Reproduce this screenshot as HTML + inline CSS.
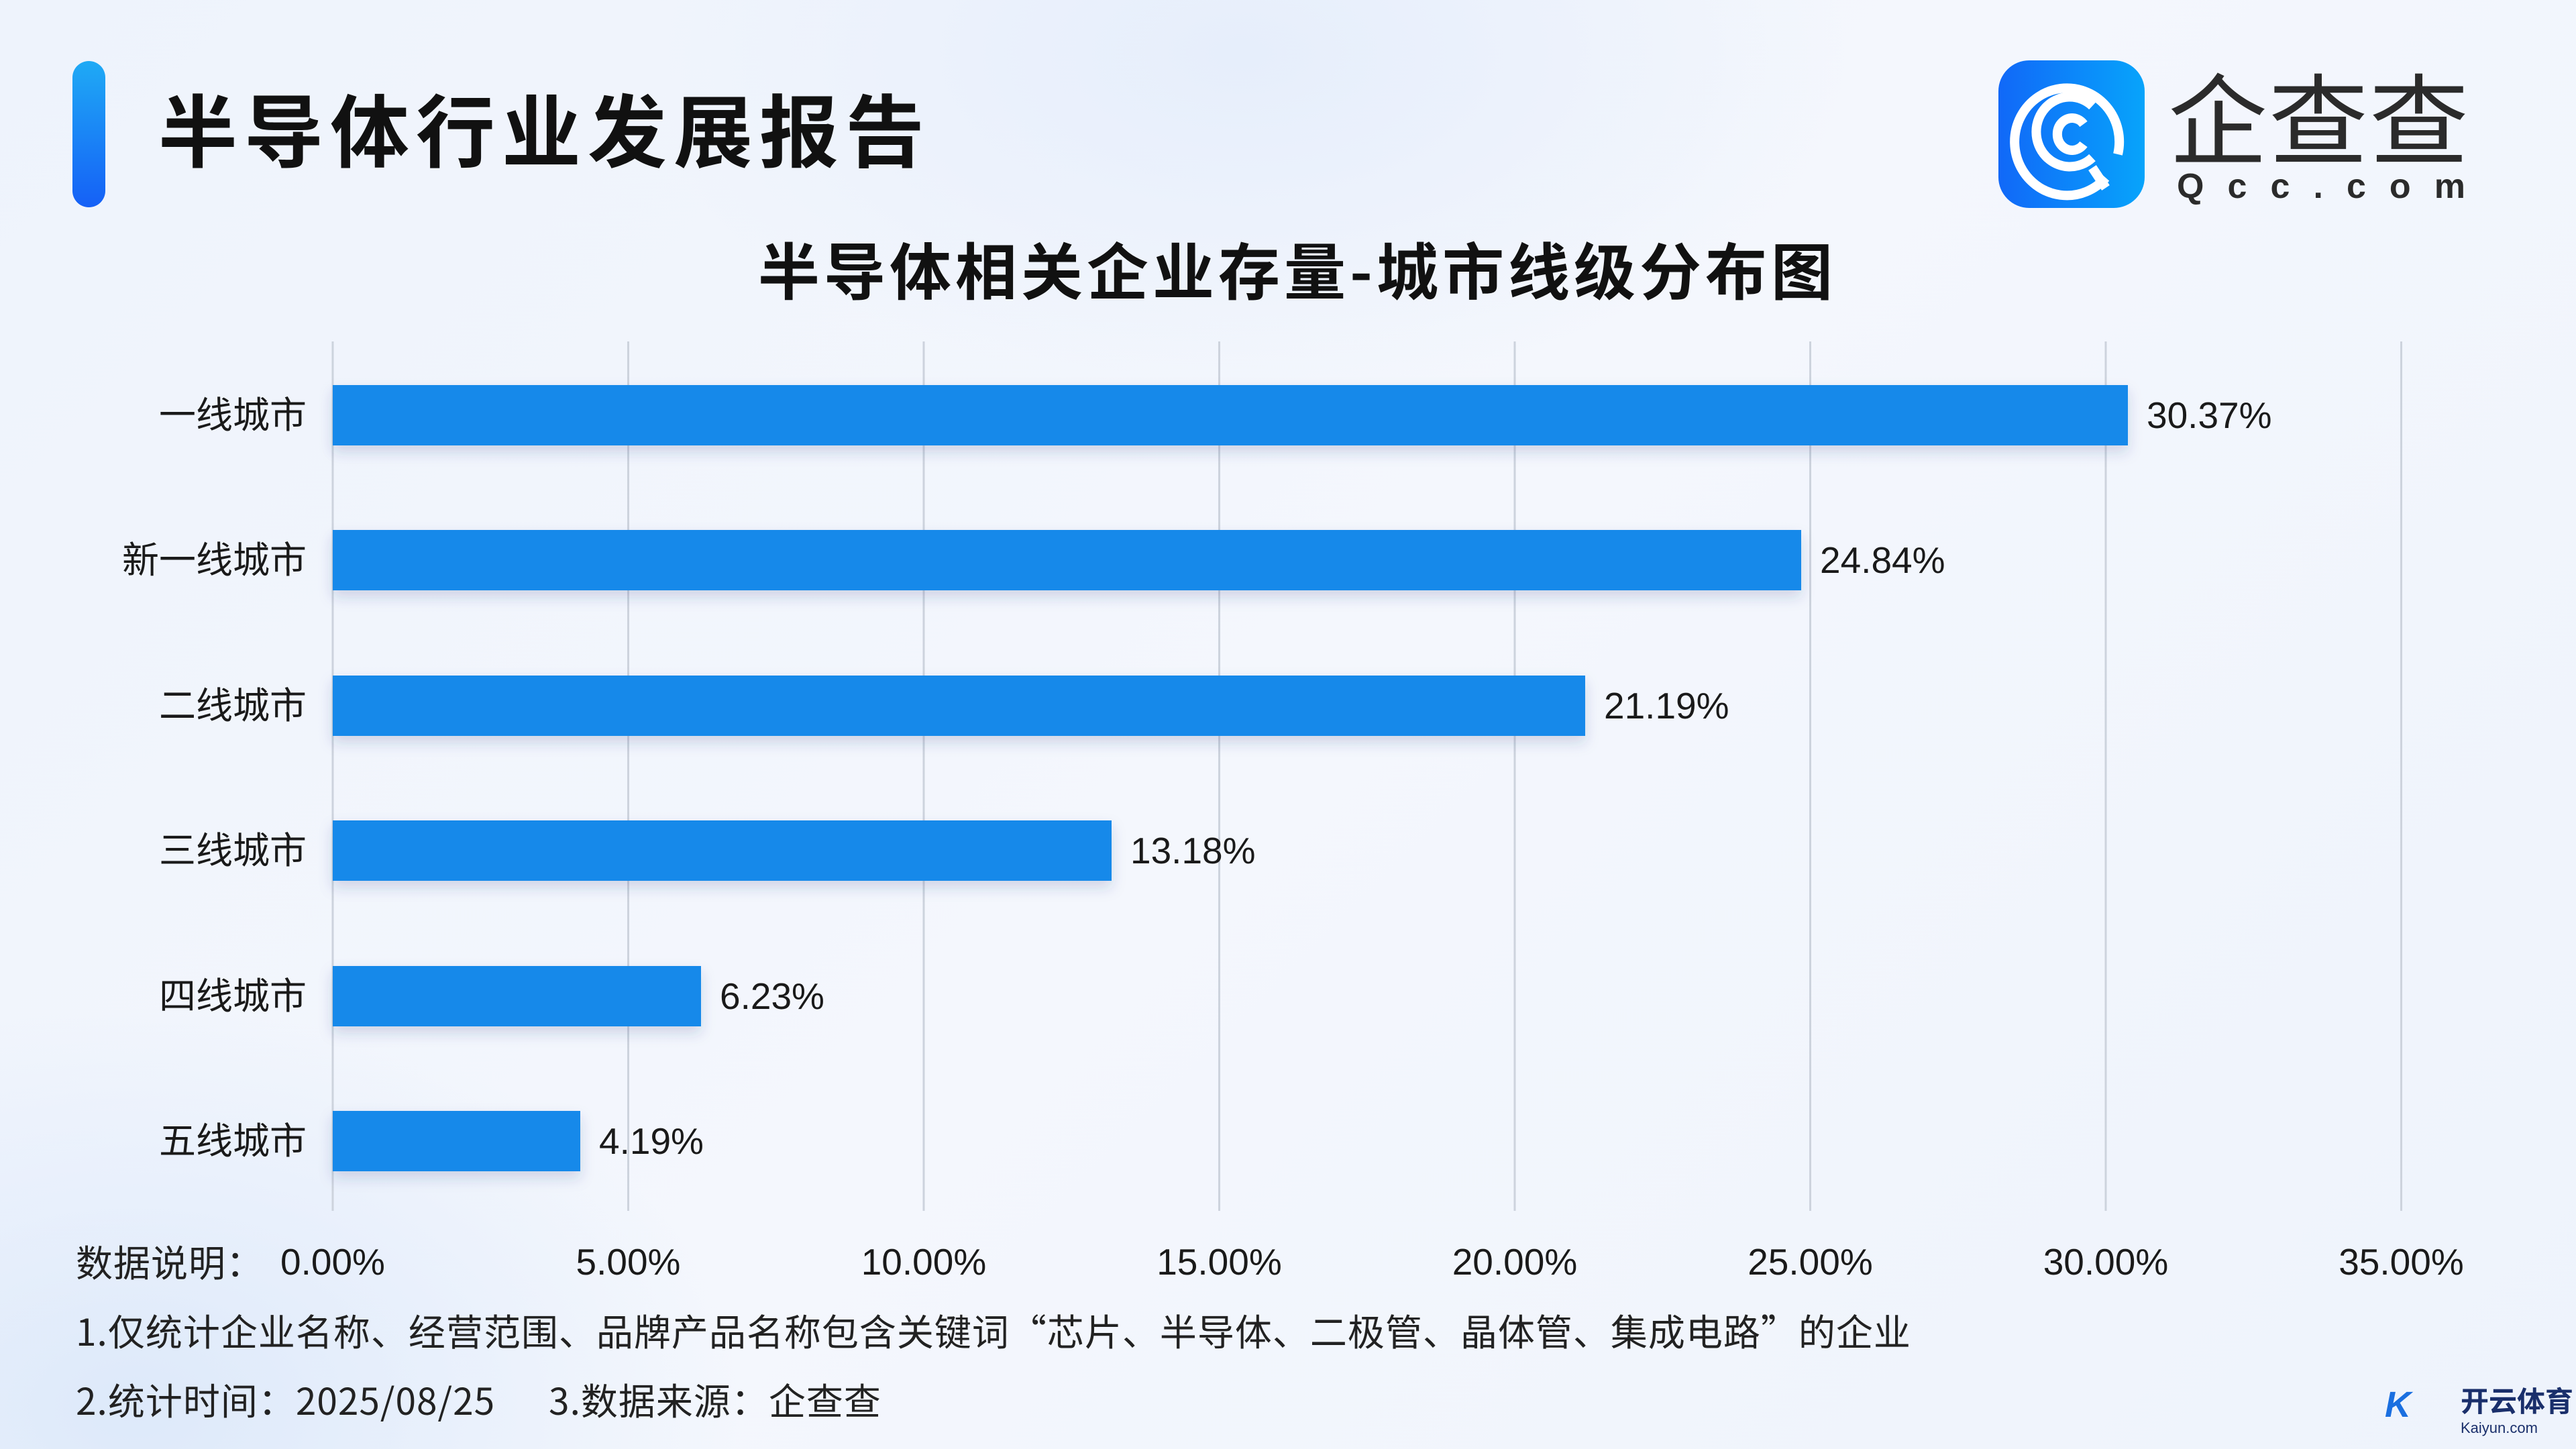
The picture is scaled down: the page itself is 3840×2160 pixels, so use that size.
<!DOCTYPE html>
<html><head><meta charset="utf-8"><style>
html,body{margin:0;padding:0}
body{width:3840px;height:2160px;overflow:hidden;position:relative;
background:radial-gradient(ellipse 900px 500px at 1850px 80px,#e6eefb 0%,rgba(240,245,253,0) 100%),radial-gradient(ellipse 900px 600px at 200px 2100px,#dde9fa 0%,rgba(240,245,253,0) 100%),linear-gradient(135deg,#eef3fc 0%,#f4f7fd 50%,#eef3fc 100%);
font-family:"Liberation Sans","Noto Sans CJK SC",sans-serif;color:#1a1a1a}
.acc{position:absolute;left:108px;top:91px;width:49px;height:218px;border-radius:25px;background:linear-gradient(180deg,#1faaf5,#1560f6)}
.t1{position:absolute;left:236px;top:118px;font-size:118px;line-height:142px;font-weight:bold;letter-spacing:10px;white-space:nowrap;font-family:"Noto Sans CJK SC",sans-serif;color:#111}
.icon{position:absolute;left:2979px;top:90px;width:218px;height:220px;border-radius:46px;background:linear-gradient(90deg,#1168f8,#07a4fb)}
.qcc{position:absolute;left:3232px;top:82px;font-size:148px;line-height:176px;letter-spacing:2px;color:#2b2b2b;font-family:"Noto Sans CJK SC",sans-serif;white-space:nowrap}
.dom{position:absolute;left:3245px;top:250px;width:430px;display:flex;justify-content:space-between;font-size:52px;line-height:56px;color:#2b2b2b;font-weight:bold}
.t2{position:absolute;left:1130px;top:342px;font-size:92px;line-height:116px;font-weight:bold;letter-spacing:6px;white-space:nowrap;font-family:"Noto Sans CJK SC",sans-serif;color:#111}
.n{position:absolute;left:113px;font-size:55px;line-height:64px;white-space:nowrap;color:#222;font-family:"Noto Sans CJK SC",sans-serif;letter-spacing:1px}
</style></head><body>
<div class="acc"></div>
<div class="t1">半导体行业发展报告</div>
<div class="icon"><svg width="218" height="220" viewBox="0 0 218 220">
<g fill="none" stroke="#fff" stroke-width="14">
<path d="M160 175 A78 80 0 1 1 178 140"/>
<path d="M140 68 A50 52 0 1 0 140 145"/>
<path d="M127 95 A22 24 0 1 0 127 125"/>
<path d="M140 160 L160 190"/></g></svg></div>
<div class="qcc">企查查</div>
<div class="dom"><span>Q</span><span>c</span><span>c</span><span>.</span><span>c</span><span>o</span><span>m</span></div>
<div class="t2">半导体相关企业存量-城市线级分布图</div>
<svg style="position:absolute;left:0;top:0" width="3840" height="2160">
<defs><filter id="sh" x="-5%" y="-30%" width="110%" height="180%"><feDropShadow dx="0" dy="10" stdDeviation="10" flood-color="#1a3a80" flood-opacity="0.18"/></filter></defs>
<g stroke="#cdd3dd" stroke-width="3">
<line x1="496" y1="509" x2="496" y2="1805"/><line x1="936.5" y1="509" x2="936.5" y2="1805"/><line x1="1377" y1="509" x2="1377" y2="1805"/><line x1="1817.5" y1="509" x2="1817.5" y2="1805"/><line x1="2258" y1="509" x2="2258" y2="1805"/><line x1="2698.5" y1="509" x2="2698.5" y2="1805"/><line x1="3139" y1="509" x2="3139" y2="1805"/><line x1="3579.5" y1="509" x2="3579.5" y2="1805"/></g>
<g fill="#1589ea" filter="url(#sh)">
<rect x="496" y="574" width="2676" height="90"/>
<rect x="496" y="790" width="2189" height="90"/>
<rect x="496" y="1007" width="1867" height="90"/>
<rect x="496" y="1223" width="1161" height="90"/>
<rect x="496" y="1440" width="549" height="90"/>
<rect x="496" y="1656" width="369" height="90"/></g>
<g font-family="Liberation Sans,Noto Sans CJK SC,sans-serif" font-size="55" fill="#1a1a1a">
<g text-anchor="end">
<text x="457" y="638">一线城市</text><text x="457" y="854">新一线城市</text><text x="457" y="1071">二线城市</text><text x="457" y="1287">三线城市</text><text x="457" y="1504">四线城市</text><text x="457" y="1720">五线城市</text></g>
<text x="3200" y="638">30.37%</text><text x="2713" y="854">24.84%</text><text x="2391" y="1071">21.19%</text><text x="1685" y="1287">13.18%</text><text x="1073" y="1504">6.23%</text><text x="893" y="1720">4.19%</text>
<g text-anchor="middle">
<text x="496" y="1900">0.00%</text><text x="936.5" y="1900">5.00%</text><text x="1377" y="1900">10.00%</text><text x="1817.5" y="1900">15.00%</text><text x="2258" y="1900">20.00%</text><text x="2698.5" y="1900">25.00%</text><text x="3139" y="1900">30.00%</text><text x="3579.5" y="1900">35.00%</text></g>
</g>
<g font-family="Liberation Sans,Noto Sans CJK SC,sans-serif">
<text x="3555" y="2112" font-size="54" font-weight="bold" fill="#1a6fe0" font-style="italic">K</text>
<text x="3668" y="2104" font-size="42" font-weight="bold" fill="#1a2f6b">开云体育</text>
<text x="3668" y="2136" font-size="22" fill="#1a2f6b">Kaiyun.com</text></g>
</svg>
<div class="n" style="top:1847px">数据说明：</div>
<div class="n" style="top:1950px">1.仅统计企业名称、经营范围、品牌产品名称包含关键词“芯片、半导体、二极管、晶体管、集成电路”的企业</div>
<div class="n" style="top:2053px">2.统计时间：2025/08/25&nbsp;&nbsp;&nbsp;&nbsp;&nbsp;&nbsp;3.数据来源：企查查</div>
</body></html>
